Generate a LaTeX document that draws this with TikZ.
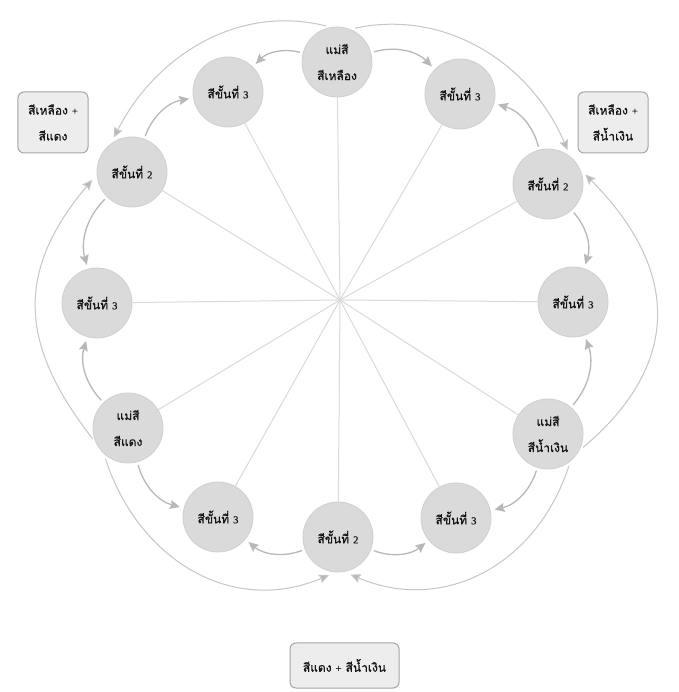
\documentclass[tikz,border=0pt]{standalone}
\usepackage{fontspec}
\setmainfont{Liberation Serif}
\newfontfamily\thaifont[Script=Thai,FakeBold=0.7]{Loma}
\newfontfamily\digitfont[FakeBold=0.4]{Liberation Serif}
\newcommand\dg[1]{{\digitfont\fontsize{10.5bp}{11bp}\selectfont #1}}
\usetikzlibrary{arrows.meta}
\definecolor{nodefill}{HTML}{DADADA}
\definecolor{nodeline}{HTML}{CFCFCF}
\definecolor{spokec}{HTML}{DADADA}
\definecolor{arrowc}{HTML}{B8B8B8}
\definecolor{arcc}{HTML}{C6C6C6}
\definecolor{boxfill}{HTML}{EDEDED}
\definecolor{boxline}{HTML}{A6A6A6}
\definecolor{textc}{HTML}{141414}
\begin{document}
\begin{tikzpicture}[x=1bp,y=1bp,
  circ/.style={circle, minimum size=70bp, inner sep=0pt, fill=nodefill, draw=nodeline, line width=0.8bp,
    font=\thaifont\fontsize{12bp}{26bp}\selectfont, align=center, text=textc},
  cbox/.style={rounded corners=6bp, fill=boxfill, draw=boxline, line width=1bp, inner sep=0pt,
    font=\thaifont\fontsize{12bp}{26bp}\selectfont, align=center, text=textc},
  spoke/.style={draw=spokec, line width=1bp},
  sarrow/.style={draw=arrowc, line width=1.3bp, -{Stealth[length=10bp,width=9bp,inset=1.5bp]},
    shorten <=3bp, shorten >=4bp},
  barc/.style={draw=arcc, line width=1bp, -{Stealth[length=10bp,width=9bp,inset=1.5bp,fill=arrowc]},
    shorten <=5bp, shorten >=7bp}]
\path[use as bounding box, fill=white] (0,0) rectangle (679,692);

\coordinate (C) at (340,392);

\node[circ] (Y)  at (337,630) {แม่สี\\สีเหลือง};
\node[circ] (T1) at (460,598) {สีขั้นที่ \dg{3}};
\node[circ] (S1) at (548,508) {สีขั้นที่ \dg{2}};
\node[circ] (T2) at (573,390) {สีขั้นที่ \dg{3}};
\node[circ] (B)  at (548,258) {แม่สี\\สีน้ำเงิน};
\node[circ] (T3) at (456,174) {สีขั้นที่ \dg{3}};
\node[circ] (S2) at (338,155) {สีขั้นที่ \dg{2}};
\node[circ] (T4) at (218,175) {สีขั้นที่ \dg{3}};
\node[circ] (R)  at (128,264) {แม่สี\\สีแดง};
\node[circ] (T5) at (97,389)  {สีขั้นที่ \dg{3}};
\node[circ] (S3) at (132,520) {สีขั้นที่ \dg{2}};
\node[circ] (T6) at (228,600) {สีขั้นที่ \dg{3}};

\node[cbox, minimum width=70bp, minimum height=61bp] (BL) at (53,569.5) {สีเหลือง \dg{+}\\สีแดง};
\node[cbox, minimum width=70bp, minimum height=61bp] (BR) at (613,569.5) {สีเหลือง \dg{+}\\สีน้ำเงิน};
\node[cbox, minimum width=109bp, minimum height=45bp] (BB) at (344.5,26.5) {สีแดง \dg{+} สีน้ำเงิน};

\foreach \n in {Y,T1,S1,T2,B,T3,S2,T4,R,T5,S3,T6}
  \draw[spoke] (C) -- (\n);

\draw[sarrow] (Y)  to[bend left=30]  (T1);
\draw[sarrow] (Y)  to[bend right=30] (T6);
\draw[sarrow] (S1) to[bend right=30] (T1);
\draw[sarrow] (S1) to[bend left=30]  (T2);
\draw[sarrow] (B)  to[bend right=30] (T2);
\draw[sarrow] (B)  to[bend left=30]  (T3);
\draw[sarrow] (S2) to[bend right=30] (T3);
\draw[sarrow] (S2) to[bend left=30]  (T4);
\draw[sarrow] (R)  to[bend right=30] (T4);
\draw[sarrow] (R)  to[bend left=30]  (T5);
\draw[sarrow] (S3) to[bend right=30] (T5);
\draw[sarrow] (S3) to[bend left=30]  (T6);

\draw[barc] (Y.100) to[out=166,in=63] (S3.127);
\draw[barc] (Y.68)  to[out=12,in=113] (S1.51);
\draw[barc] (B.-28) to[out=40,in=-45,looseness=1.25] (S1.24);
\draw[barc] (R.205) to[out=128,in=230,looseness=1.2] (S3.184);
\draw[barc] (R.227) to[out=-72,in=203,looseness=1.1] (S2.266);
\draw[barc] (B.-51) to[out=252,in=-23,looseness=1.1] (S2.280);
\end{tikzpicture}
\end{document}
